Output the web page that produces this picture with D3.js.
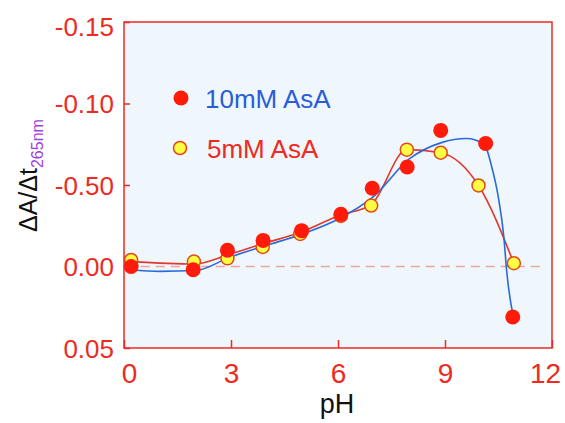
<!DOCTYPE html>
<html>
<head>
<meta charset="utf-8">
<script src="https://cdn.jsdelivr.net/npm/d3@7"></script>
<style>
  body { margin: 0; background: #fff; }
  svg { display: block; font-family: "Liberation Sans", Arial, sans-serif; }
</style>
</head>
<body>
<svg></svg>
<script>
// data
let ph10 = [0.2, 1.94, 2.9, 3.9, 4.98, 6.08, 6.96, 7.94, 8.88, 10.14, 10.9]
let val10 = [0.000, 0.002, -0.010, -0.016, -0.022, -0.032, -0.048, -0.061, -0.0835, -0.0755, 0.031]
let ph5 = [0.2, 1.96, 2.9, 3.89, 4.94, 6.08, 6.93, 7.93, 8.88, 9.94, 10.93]
let val5 = [-0.004, -0.003, -0.005, -0.012, -0.020, -0.031, -0.0374, -0.0717, -0.0698, -0.0497, -0.002]

// fitted curves as drawn in the figure
let fitPh10 = [0.2, 1, 2, 3, 4, 5, 6, 7, 8, 8.9, 9.6, 10.1, 10.3, 10.5, 10.65, 10.73, 10.82, 10.92]
let fitVal10 = [0.002, 0.003, 0.0025, -0.006, -0.013, -0.020, -0.029, -0.043, -0.066, -0.076, -0.0785, -0.075, -0.062, -0.042, -0.018, 0.003, 0.019, 0.031]
let fitPh5 = [0.2, 1.96, 2.9, 3.9, 4.95, 6.05, 6.93, 7.93, 8.88, 9.94, 10.93]
let fitVal5 = [-0.003, -0.0015, -0.007, -0.014, -0.021, -0.0315, -0.038, -0.0717, -0.0698, -0.0497, -0.002]

let xTicks = [0, 3, 6, 9, 12]
let yTicks = [-0.15, -0.10, -0.05, 0.00, 0.05]
let yTickLabels = ["-0.15", "-0.10", "-0.50", "0.00", "0.05"]
let legendNames = ["10mM AsA", "5mM AsA"]

let width = 565
let height = 423
let padLeft = 124, padRight = 552, padTop = 22, padBottom = 348

let red = "#ee2a22"
let svg = d3.select('svg').attr('width', width).attr('height', height)

let xScale = d3.scaleLinear().domain([0, 12]).range([padLeft, padRight])
let yScale = d3.scaleLinear().domain([-0.15, 0.05]).range([padTop, padBottom])

// plot background
svg.append('rect')
  .attr('x', padLeft).attr('y', padTop)
  .attr('width', padRight - padLeft).attr('height', padBottom - padTop)
  .attr('fill', '#eff7fc')

// zero line
svg.append('line')
  .attr('x1', xScale(0.05)).attr('x2', xScale(11.75))
  .attr('y1', yScale(0)).attr('y2', yScale(0))
  .attr('stroke', '#eca4a4').attr('stroke-width', 1.5)
  .attr('stroke-dasharray', '9,6')

// fit lines
let line = d3.line()
  .x(d => xScale(d[0]))
  .y(d => yScale(d[1]))
  .curve(d3.curveMonotoneX)

svg.append('path')
  .datum(fitPh5.map((p, i) => [p, fitVal5[i]]))
  .attr('d', line)
  .attr('fill', 'none').attr('stroke', '#e2382a').attr('stroke-width', 1.6)

svg.append('path')
  .datum(fitPh10.map((p, i) => [p, fitVal10[i]]))
  .attr('d', line)
  .attr('fill', 'none').attr('stroke', '#2a6ad8').attr('stroke-width', 1.6)

// points
svg.selectAll('circle.p5')
  .data(ph5.map((p, i) => [p, val5[i]]))
  .enter().append('circle')
  .attr('class', 'p5')
  .attr('cx', d => xScale(d[0])).attr('cy', d => yScale(d[1]))
  .attr('r', 6.5)
  .attr('fill', '#ffff44').attr('stroke', '#e2481a').attr('stroke-width', 1.5)

svg.selectAll('circle.p10')
  .data(ph10.map((p, i) => [p, val10[i]]))
  .enter().append('circle')
  .attr('class', 'p10')
  .attr('cx', d => xScale(d[0])).attr('cy', d => yScale(d[1]))
  .attr('r', 7.5)
  .attr('fill', '#ff1a0a')

// axes
let xAxis = d3.axisBottom(xScale).tickValues(xTicks).tickSize(-8).tickPadding(15)
let gx = svg.append('g')
  .attr('transform', 'translate(0,' + padBottom + ')')
  .call(xAxis)
gx.selectAll('text')
  .attr('font-size', 28).attr('fill', red)
  .attr('font-family', '"Liberation Sans", Arial, sans-serif')
  .attr('dx', d => d === 0 ? 5 : (d === 12 ? -7 : 0))

let yAxis = d3.axisLeft(yScale).tickValues(yTicks).tickSize(-6).tickPadding(10)
  .tickFormat((d, i) => yTickLabels[i])
let gy = svg.append('g')
  .attr('transform', 'translate(' + padLeft + ',0)')
  .call(yAxis)
gy.selectAll('text')
  .attr('font-size', 26).attr('fill', red)
  .attr('font-family', '"Liberation Sans", Arial, sans-serif')
  .attr('dy', d => d === -0.15 ? '0.5em' : '0.35em')

svg.selectAll('.domain').remove()
svg.selectAll('.tick line').attr('stroke', red).attr('stroke-width', 1.5)

// frame
svg.append('rect')
  .attr('x', padLeft).attr('y', padTop)
  .attr('width', padRight - padLeft).attr('height', padBottom - padTop)
  .attr('fill', 'none').attr('stroke', red).attr('stroke-width', 1.5)

// legend
svg.append('circle').attr('cx', 181).attr('cy', 98).attr('r', 7.5).attr('fill', '#ff1a0a')
svg.append('text').attr('x', 205).attr('y', 108).attr('font-size', 26)
  .attr('fill', '#2a5ed8').text(legendNames[0])
svg.append('circle').attr('cx', 180).attr('cy', 148).attr('r', 6.5)
  .attr('fill', '#ffff44').attr('stroke', '#e2481a').attr('stroke-width', 1.5)
svg.append('text').attr('x', 207).attr('y', 158).attr('font-size', 26)
  .attr('fill', red).text(legendNames[1])

// axis titles
svg.append('text').attr('x', 337).attr('y', 413).attr('font-size', 27)
  .attr('text-anchor', 'middle').attr('fill', '#111').text('pH')

let yTitle = svg.append('text')
  .attr('transform', 'translate(37,232) rotate(-90)')
  .attr('font-size', 25).attr('fill', '#111')
yTitle.append('tspan').text('ΔA/Δt')
yTitle.append('tspan').attr('dy', 6).attr('font-size', 16).attr('fill', '#a040e0').text('265nm')
</script>
</body>
</html>
